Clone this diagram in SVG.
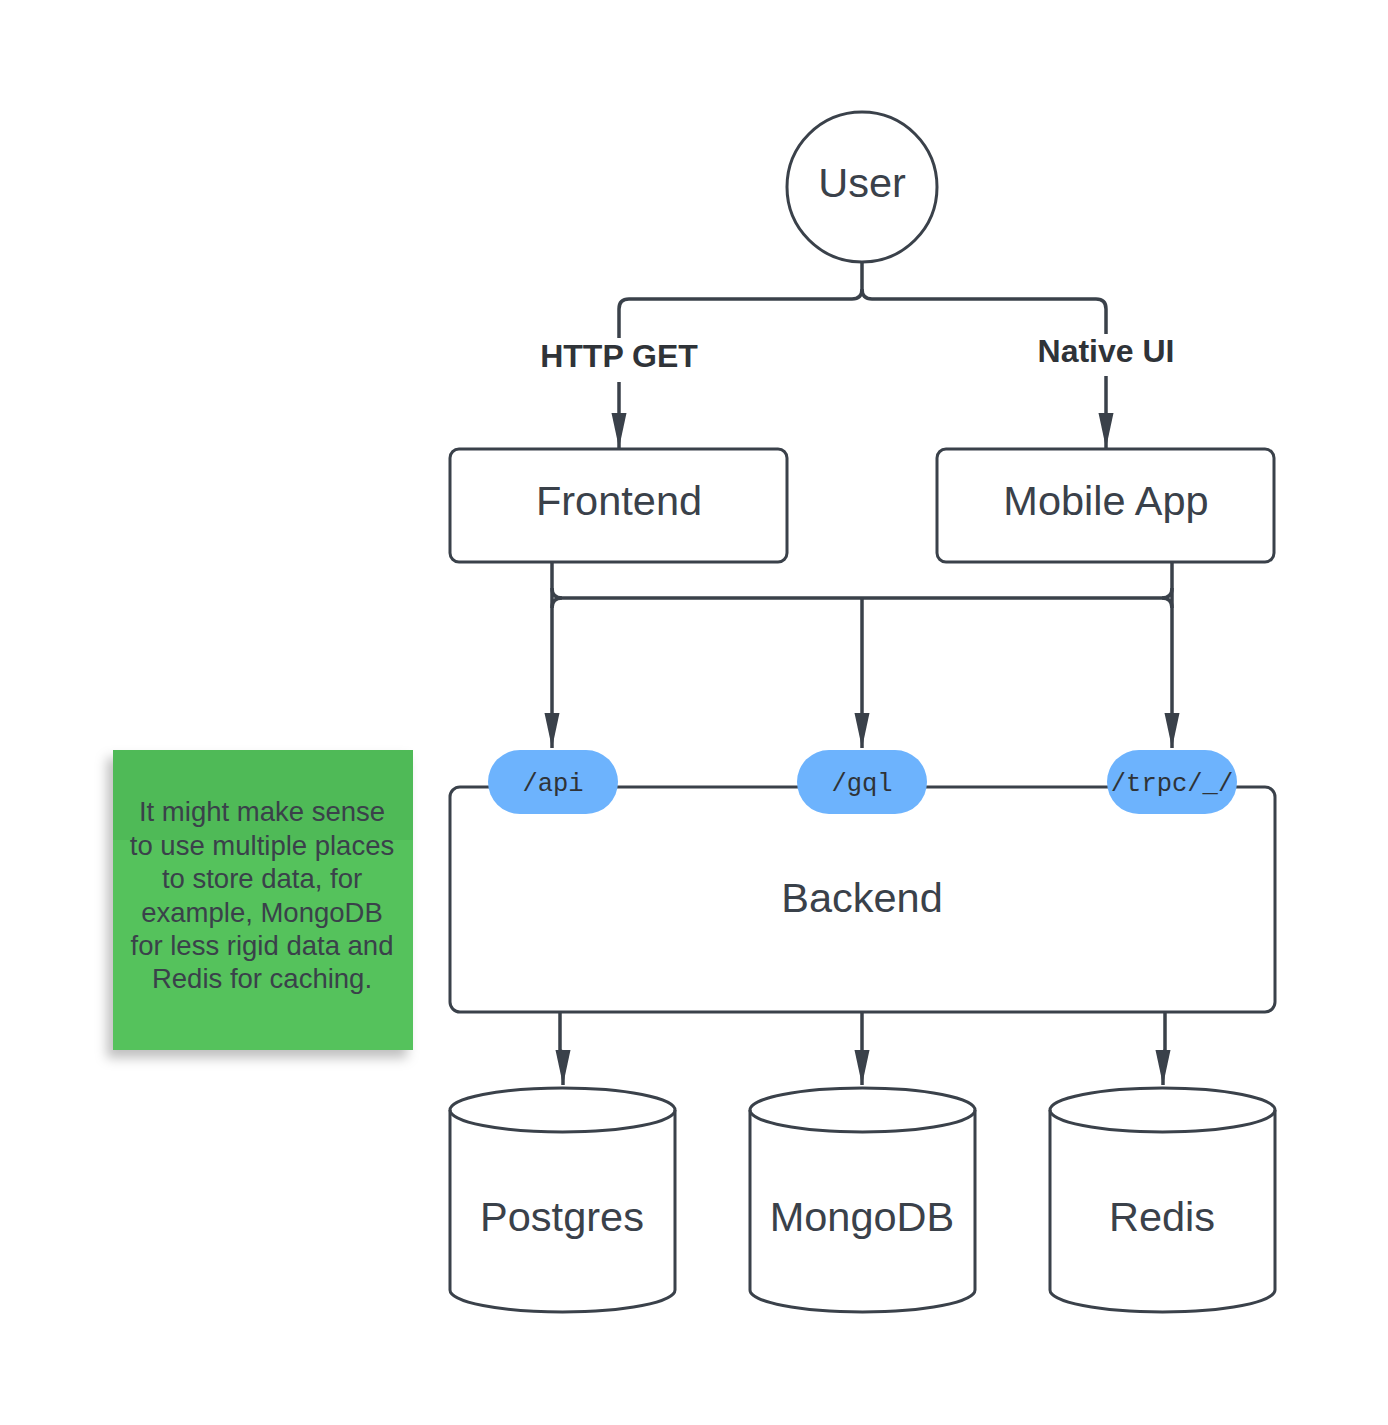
<svg xmlns="http://www.w3.org/2000/svg" width="1388" height="1425" viewBox="0 0 1388 1425">
<defs>
<style>
.s{fill:#fff;stroke:#3a414a;stroke-width:3}
.c{fill:none;stroke:#3a414a;stroke-width:3.5}
.t{font-family:"Liberation Sans",Arial,sans-serif;fill:#3a414a;text-anchor:middle}
.big{font-size:41.5px}
.lbl{font-size:32px;font-weight:bold;fill:#2f3338}
.m{font-family:"Liberation Mono","DejaVu Sans Mono",monospace;font-size:25.5px;fill:#2f3338;text-anchor:middle}
.pill{fill:#6db3fd}
.note{font-size:27.5px}
</style>
<marker id="a" markerUnits="userSpaceOnUse" markerWidth="36" markerHeight="20" viewBox="0 0 36 20" refX="35" refY="10" orient="auto">
<path d="M0,2.5 L35,10 L0,17.5 Z" fill="#3a414a"/>
</marker>
<filter id="sh" x="-20%" y="-20%" width="140%" height="140%">
<feDropShadow dx="-6" dy="8" stdDeviation="6" flood-color="#000" flood-opacity="0.25"/>
</filter>
</defs>
<rect width="1388" height="1425" fill="#fff"/>

<g id="connectors">
<path class="c" d="M862,262 V289 Q862,299 852,299 H629 Q619,299 619,309 V338"/>
<path class="c" d="M862,289 Q862,299 872,299 H1096 Q1106,299 1106,309 V334"/>
<path class="c" d="M619,382 V448" marker-end="url(#a)"/>
<path class="c" d="M1106,376 V448" marker-end="url(#a)"/>
<path class="c" d="M552,562 V748" marker-end="url(#a)"/>
<path class="c" d="M1172,562 V748" marker-end="url(#a)"/>
<path class="c" d="M552,588 Q552,598 562,598 H1162 Q1172,598 1172,588"/>
<path class="c" d="M552,608 Q552,598 562,598"/>
<path class="c" d="M1172,608 Q1172,598 1162,598"/>
<path class="c" d="M862,598 V748" marker-end="url(#a)"/>
<path class="c" d="M560,1012 V1050 L563,1053 V1085" marker-end="url(#a)"/>
<path class="c" d="M862,1012 V1085" marker-end="url(#a)"/>
<path class="c" d="M1165,1012 V1050 L1163,1053 V1085" marker-end="url(#a)"/>
<text class="t lbl" x="619" y="367">HTTP GET</text>
<text class="t lbl" x="1106" y="362">Native UI</text>
</g>

<g id="user">
<circle class="s" cx="862" cy="187" r="75"/>
<text class="t big" x="862" y="197">User</text>
</g>

<g id="frontend">
<rect class="s" x="450" y="449" width="337" height="113" rx="9"/>
<text class="t big" x="619" y="515">Frontend</text>
</g>

<g id="mobile">
<rect class="s" x="937" y="449" width="337" height="113" rx="9"/>
<text class="t big" x="1106" y="515">Mobile App</text>
</g>

<g id="backend">
<rect class="s" x="450" y="787" width="825" height="225" rx="10"/>
<text class="t big" x="862" y="912">Backend</text>
</g>

<g id="api">
<rect class="pill" x="488" y="750" width="130" height="64" rx="32"/>
<text class="m" x="553" y="791">/api</text>
</g>
<g id="gql">
<rect class="pill" x="797" y="750" width="130" height="64" rx="32"/>
<text class="m" x="862" y="791">/gql</text>
</g>
<g id="trpc">
<rect class="pill" x="1107" y="750" width="130" height="64" rx="32"/>
<text class="m" x="1172" y="791">/trpc/_/</text>
</g>

<g id="postgres">
<path class="s" d="M450,1110 V1290 A112.5,22 0 0 0 675,1290 V1110 A112.5,22 0 0 0 450,1110 Z"/>
<path class="c" d="M450,1110 A112.5,22 0 0 0 675,1110" style="stroke-width:3"/>
<text class="t big" x="562" y="1231">Postgres</text>
</g>
<g id="mongodb">
<path class="s" d="M750,1110 V1290 A112.5,22 0 0 0 975,1290 V1110 A112.5,22 0 0 0 750,1110 Z"/>
<path class="c" d="M750,1110 A112.5,22 0 0 0 975,1110" style="stroke-width:3"/>
<text class="t big" x="862" y="1231">MongoDB</text>
</g>
<g id="redis">
<path class="s" d="M1050,1110 V1290 A112.5,22 0 0 0 1275,1290 V1110 A112.5,22 0 0 0 1050,1110 Z"/>
<path class="c" d="M1050,1110 A112.5,22 0 0 0 1275,1110" style="stroke-width:3"/>
<text class="t big" x="1162" y="1231">Redis</text>
</g>

<g id="note">
<rect x="113" y="750" width="300" height="300" fill="#54c25c" filter="url(#sh)"/>
<rect x="113" y="750" width="300" height="90" fill="#4fba57"/>
<text class="t note" x="262" y="821">It might make sense</text>
<text class="t note" x="262" y="855">to use multiple places</text>
<text class="t note" x="262" y="888">to store data, for</text>
<text class="t note" x="262" y="922">example, MongoDB</text>
<text class="t note" x="262" y="955">for less rigid data and</text>
<text class="t note" x="262" y="988">Redis for caching.</text>
</g>
</svg>
